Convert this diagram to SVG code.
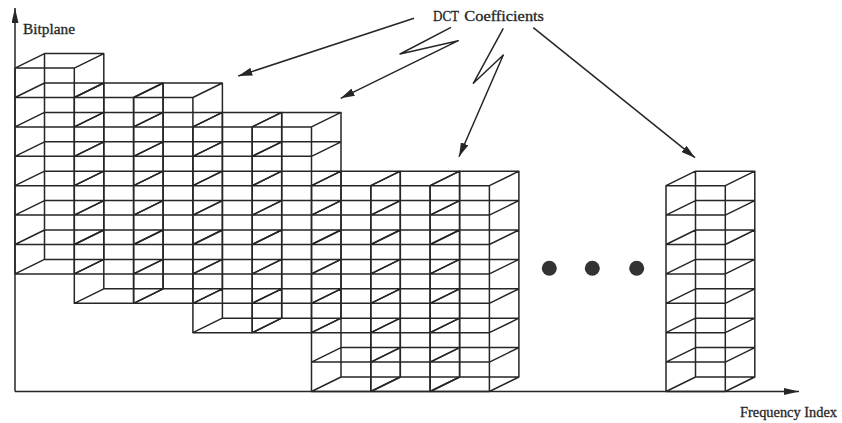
<svg xmlns="http://www.w3.org/2000/svg" width="842" height="423" viewBox="0 0 842 423">
  <style>
    .wire { fill: none; stroke: #262626; stroke-width: 1.5; stroke-linejoin: round; }
    .conn { fill: none; stroke: #262626; stroke-width: 1.5; stroke-linejoin: round; }
    .lbl { font-family: "Liberation Serif", "Times New Roman", serif; font-size: 14.5px; fill: #262626; stroke: #262626; stroke-width: 0.3; }
    .dot { fill: #333333; }
  </style>
  <defs>
    <marker id="arr" viewBox="0 0 14 8" refX="14" refY="4" markerWidth="14" markerHeight="8" markerUnits="userSpaceOnUse" orient="auto">
      <path d="M0 0L14 4L0 8z" fill="#262626"/>
    </marker>
    <marker id="axarr" viewBox="0 0 15 7" refX="15" refY="3.5" markerWidth="15" markerHeight="7" markerUnits="userSpaceOnUse" orient="auto">
      <path d="M0 0L15 3.5L0 7z" fill="#262626"/>
    </marker>
    <path id="col" class="wire" d="M0 0V-205.8M59.3 0V-205.8M29.5-14.5V-220.3M88.8-14.5V-220.3
      M0 0h59.3l29.5-14.5h-59.3z
      M0-29.4h59.3l29.5-14.5h-59.3z
      M0-58.8h59.3l29.5-14.5h-59.3z
      M0-88.2h59.3l29.5-14.5h-59.3z
      M0-117.6h59.3l29.5-14.5h-59.3z
      M0-147h59.3l29.5-14.5h-59.3z
      M0-176.4h59.3l29.5-14.5h-59.3z
      M0-205.8h59.3l29.5-14.5h-59.3z"/>
  </defs>
  <rect width="842" height="423" fill="#ffffff"/>

  <g id="axes">
    <path class="conn" d="M15 391.5V8" marker-end="url(#axarr)"/>
    <path class="conn" d="M15 391.5H799" marker-end="url(#axarr)"/>
    <text class="lbl" x="23" y="34" textLength="52" lengthAdjust="spacingAndGlyphs">Bitplane</text>
    <text class="lbl" x="740" y="417" textLength="97" lengthAdjust="spacingAndGlyphs">Frequency Index</text>
  </g>

  <g id="group1">
    <use href="#col" x="15" y="273.9"/>
  </g>
  <g id="group2">
    <use href="#col" x="74.3" y="303.3"/>
    <use href="#col" x="133.6" y="303.3"/>
  </g>
  <g id="group3">
    <use href="#col" x="192.9" y="332.7"/>
    <use href="#col" x="252.2" y="332.7"/>
  </g>
  <g id="group4">
    <use href="#col" x="311.5" y="391.5"/>
    <use href="#col" x="370.8" y="391.5"/>
    <use href="#col" x="430.1" y="391.5"/>
  </g>
  <g id="ellipsis">
    <circle class="dot" cx="549.3" cy="268.3" r="7.5"/>
    <circle class="dot" cx="592.3" cy="268.3" r="7.5"/>
    <circle class="dot" cx="636.7" cy="268.3" r="7.5"/>
  </g>
  <g id="last-column">
    <use href="#col" x="666" y="391.5"/>
  </g>

  <g id="dct-label">
    <text class="lbl" x="433" y="21" textLength="26" lengthAdjust="spacingAndGlyphs">DCT</text>
    <text class="lbl" x="464.3" y="21" textLength="79.7" lengthAdjust="spacingAndGlyphs">Coefficients</text>
  </g>

  <g id="connectors">
    <path class="conn" d="M414 18.3L238.3 76" marker-end="url(#arr)"/>
    <path class="conn" d="M451 27.3L400 54L458.3 40.7L340.7 98.3" marker-end="url(#arr)"/>
    <path class="conn" d="M503.3 28.3L473.3 83.3L503.3 55L459 156.7" marker-end="url(#arr)"/>
    <path class="conn" d="M533.3 27.7L695 157.7" marker-end="url(#arr)"/>
  </g>
</svg>
